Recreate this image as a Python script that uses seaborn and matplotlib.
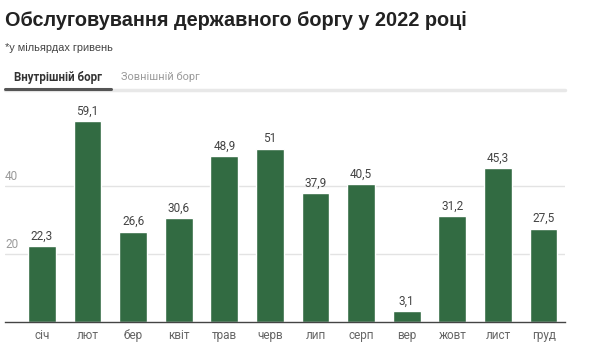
import matplotlib
matplotlib.use("Agg")
import matplotlib.pyplot as plt
import seaborn as sns
import pandas as pd

months = ["січ", "лют", "бер", "квіт", "трав", "черв", "лип", "серп", "вер", "жовт", "лист", "груд"]
values = [22.3, 59.1, 26.6, 30.6, 48.9, 51, 37.9, 40.5, 3.1, 31.2, 45.3, 27.5]
y_ticks = [20, 40]

title = "Обслуговування державного боргу у 2022 році"
subtitle = "*у мільярдах гривень"
tabs = ["Внутрішній борг", "Зовнішній борг"]

W, H = 600, 359
bar_color = "#326b42"

sns.set_theme(style="white")
plt.rcParams["font.family"] = ["Roboto", "DejaVu Sans"]

fig = plt.figure(figsize=(W / 100, H / 100), dpi=100)

def px(x0, y0, x1, y1):
    # pixel box (top-left origin) -> figure fraction rect
    return [x0 / W, 1 - y1 / H, (x1 - x0) / W, (y1 - y0) / H]

ax = fig.add_axes(px(5, 100, 565, 322))
df = pd.DataFrame({"month": months, "value": values})
sns.barplot(data=df, x="month", y="value", color=bar_color, saturation=1,
            width=0.61, ax=ax)

ax.set_xlim(-0.811, 11.47)
ax.set_ylim(0, 222 / 3.4)
ax.set_yticks(y_ticks)
ax.set_yticklabels([])
ax.tick_params(axis="y", length=0)
ax.tick_params(axis="x", length=0, pad=5, labelsize=8.5, labelcolor="#666666")
ax.grid(axis="y", color="#e3e3e3", linewidth=1)
ax.set_axisbelow(True)
for s in ["top", "right", "left"]:
    ax.spines[s].set_visible(False)
ax.spines["bottom"].set_color("#444444")
ax.spines["bottom"].set_linewidth(1)
ax.set_xlabel("")
ax.set_ylabel("")

for t in y_ticks:
    ax.text(0, t + 0.9, str(t), transform=ax.get_yaxis_transform(),
            ha="left", va="bottom", fontsize=8.5, color="#9a9a9a")

for cont in ax.containers:
    labels = [f"{v:g}".replace(".", ",") for v in values]
    ax.bar_label(cont, labels=labels, padding=2.5, fontsize=8.5, color="#444444")

fig.text(5 / W, 1 - 21 / H, title, fontsize=14.3, fontweight="bold",
         family=["Liberation Sans", "DejaVu Sans"], color="#222222", va="center")
fig.text(5 / W, 1 - 48 / H, subtitle, fontsize=7.9,
         family=["Liberation Sans", "DejaVu Sans"], color="#444444", va="center")
fig.text(14 / W, 1 - 77 / H, tabs[0], fontsize=8.3, fontweight="bold",
         color="#333333", va="center")
fig.text(121 / W, 1 - 77 / H, tabs[1], fontsize=7.9, color="#9a9a9a", va="center")

# tab underline
fig.add_artist(plt.Line2D([5 / W, 565 / W], [1 - 90 / H] * 2, color="#e8e8e8", lw=2.5))
fig.add_artist(plt.Line2D([5 / W, 111 / W], [1 - 89 / H] * 2, color="#555555", lw=2.2))

fig.savefig("out.png", dpi=100)
